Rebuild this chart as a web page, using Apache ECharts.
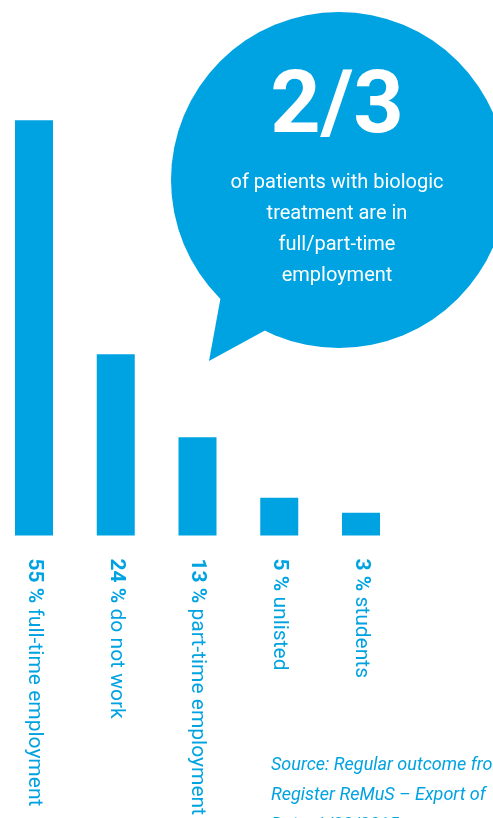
<!DOCTYPE html>
<html>
<head>
<meta charset="utf-8">
<script src="https://cdn.jsdelivr.net/npm/echarts@6/dist/echarts.min.js"></script>
<style>
html,body{margin:0;padding:0;background:#fff;}
#chart{width:493px;height:818px;}
</style>
</head>
<body>
<div id="chart"></div>
<script>
var categories = ['full-time employment', 'do not work', 'part-time employment', 'unlisted', 'students'];
var values = [55, 24, 13, 5, 3];
var bubbleHeadline = '2/3';
var bubbleLines = ['of patients with biologic', 'treatment are in', 'full/part-time', 'employment'];
var sourceLines = ['Source: Regular outcome from', 'Register ReMuS \u2013 Export of', 'Date: 1/30/2015'];

var BLUE = '#00a3e1';
var FONT = 'Roboto';

var chart = echarts.init(document.getElementById('chart'), null, {renderer: 'canvas'});
chart.setOption({
  animation: false,
  backgroundColor: '#ffffff',
  textStyle: {fontFamily: FONT},
  grid: {left: 34, width: 327, top: 7, bottom: 281, containLabel: false},
  xAxis: {
    type: 'category',
    data: categories,
    boundaryGap: false,
    axisLine: {show: false},
    axisTick: {show: false},
    splitLine: {show: false},
    axisLabel: {
      interval: 0,
      rotate: -90,
      margin: 23,
      color: BLUE,
      fontFamily: FONT,
      fontSize: 21,
      formatter: function (v, i) {
        return '{b|' + values[i] + ' %} {r|' + v + '}';
      },
      rich: {
        b: {fontWeight: 'bold', fontSize: 21, color: BLUE, fontFamily: FONT},
        r: {fontWeight: 'normal', fontSize: 21, color: BLUE, fontFamily: FONT}
      }
    }
  },
  yAxis: {
    type: 'value',
    min: 0,
    max: 70,
    show: false,
    splitLine: {show: false}
  },
  series: [{
    type: 'bar',
    data: values,
    barWidth: 38,
    clip: false,
    itemStyle: {color: BLUE},
    silent: true
  }],
  graphic: [
    {
      type: 'circle',
      shape: {cx: 339, cy: 180, r: 168},
      style: {fill: BLUE},
      silent: true
    },
    {
      type: 'polygon',
      shape: {points: [[222, 290], [209, 361], [275, 325]]},
      style: {fill: BLUE},
      silent: true
    },
    {
      type: 'text',
      x: 337,
      y: 110,
      style: {
        text: bubbleHeadline,
        fill: '#ffffff',
        font: 'bold 88px ' + FONT,
        textAlign: 'center',
        textVerticalAlign: 'middle'
      },
      silent: true
    },
    {
      type: 'text',
      x: 337,
      y: 167,
      style: {
        text: bubbleLines.join('\n'),
        fill: '#ffffff',
        font: '20px ' + FONT,
        lineHeight: 31,
        textAlign: 'center',
        textVerticalAlign: 'top'
      },
      silent: true
    },
    {
      type: 'text',
      x: 271,
      y: 750,
      style: {
        text: sourceLines.join('\n'),
        fill: BLUE,
        font: 'italic 18px ' + FONT,
        lineHeight: 30,
        textAlign: 'left',
        textVerticalAlign: 'top'
      },
      silent: true
    }
  ]
});
</script>
</body>
</html>
